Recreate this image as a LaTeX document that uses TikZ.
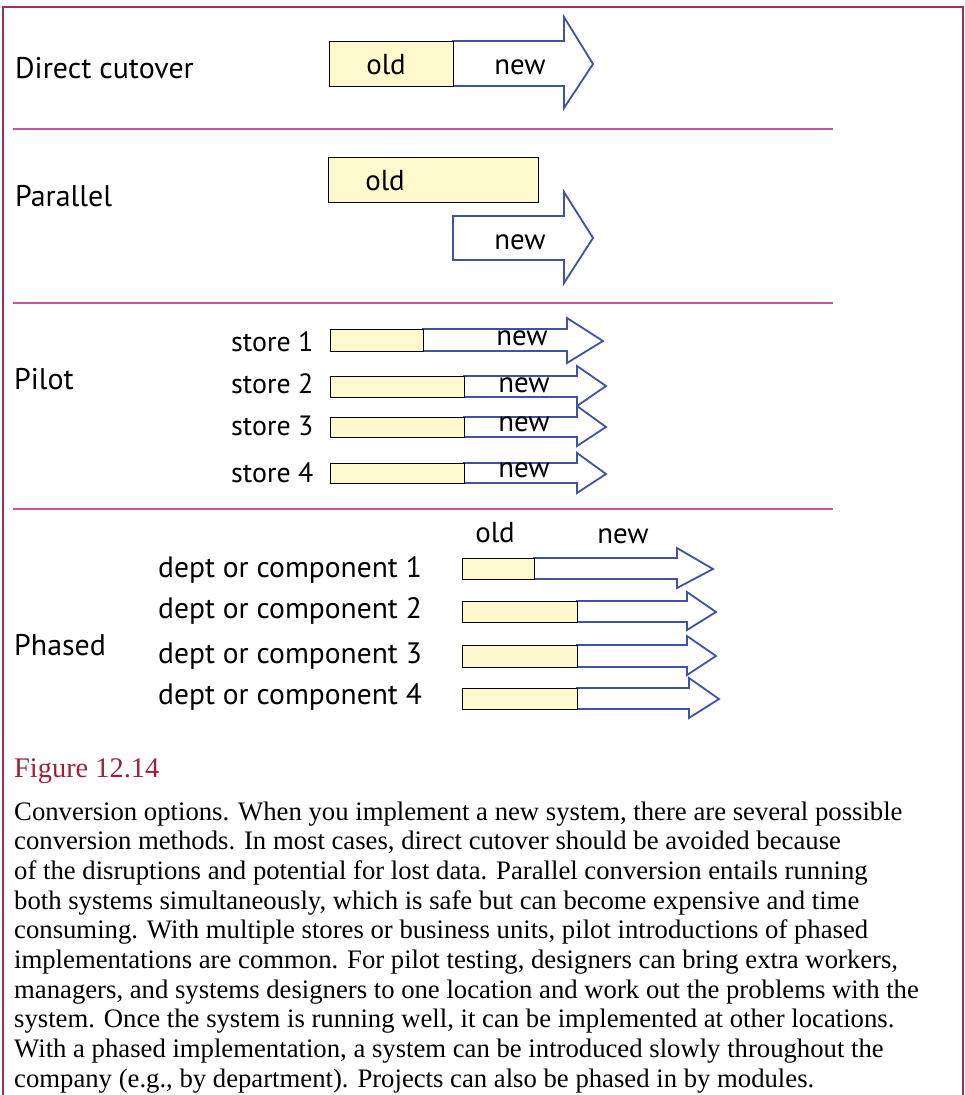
\documentclass[tikz,border=0pt]{standalone}
\usepackage{fontspec}
\setmainfont{Liberation Serif}
\newfontfamily\labelfont{PT Sans}
\definecolor{framecol}{HTML}{9E2F4E}
\definecolor{rulecol}{HTML}{C455A5}
\definecolor{arrowblue}{HTML}{3F52A6}
\definecolor{oldfill}{HTML}{FFFACD}
\definecolor{titlecol}{HTML}{9B2335}

% block arrow: x-left, x-head-base, x-tip, shaft top, shaft bottom, head top, head bottom, tip y
\newcommand\blockarr[8]{%
  \draw[newarrow] (#1,#4) -- (#2,#4) -- (#2,#6) -- (#3,#8) -- (#2,#7) -- (#2,#5) -- (#1,#5) -- cycle;}

\begin{document}
\begin{tikzpicture}[x=1bp,y=-1bp,
  frame/.style={draw=framecol,line width=1.6bp},
  sectionrule/.style={draw=rulecol,line width=2.4bp},
  newarrow/.style={draw=arrowblue,fill=white,line width=1.8bp,line join=miter},
  oldbox/.style={draw=black,fill=oldfill,line width=1bp},
  lbl/.style={inner sep=0pt,anchor=base west,font=\labelfont\fontsize{30}{36}\selectfont},
  deptlbl/.style={inner sep=0pt,anchor=base west,font=\labelfont\fontsize{29.6}{35}\selectfont},
  small/.style={inner sep=0pt,anchor=base west,font=\labelfont\fontsize{28}{34}\selectfont},
  tag/.style={inner sep=0pt,anchor=base,font=\labelfont\fontsize{29}{34}\selectfont},
  caption/.style={inner sep=0pt,anchor=base west,font=\fontsize{26.8}{30}\selectfont}]
\useasboundingbox (0,0) rectangle (965,1095);

% outer frame (open at the bottom)
\draw[frame] (3,1095) -- (3,7) -- (963,7) -- (963,1095);

% section separators
\draw[sectionrule] (13,129) -- (833,129);
\draw[sectionrule] (13,303) -- (833,303);
\draw[sectionrule] (13,509) -- (833,509);

% ---- Direct cutover
\node[lbl] (direct) at (15,78) {Direct cutover};
\blockarr{453}{564}{593}{41}{86}{17}{108}{64}
\draw[oldbox] (329,41) rectangle (453,86);
\node[tag] (old1) at (386,74) {old};
\node[tag] (new1) at (520,74) {new};

% ---- Parallel
\node[lbl] (parallel) at (15,206) {Parallel};
\draw[oldbox] (328,157) rectangle (538,202);
\blockarr{453}{564}{593}{216}{260}{192}{283}{238}
\node[tag] (old2) at (385,190) {old};
\node[tag] (new2) at (520,249) {new};

% ---- Pilot
\node[lbl] (pilot) at (14,389) {Pilot};
\node[small] (s1) at (231,351) {store 1};
\node[small] (s2) at (231,393) {store 2};
\node[small] (s3) at (231,435) {store 3};
\node[small] (s4) at (231,482) {store 4};
\blockarr{423}{567}{603}{329}{351}{318}{363}{341}
\blockarr{464}{577}{606}{376}{397}{366}{406}{386}
\blockarr{464}{577}{606}{417}{437}{406}{446}{427}
\blockarr{464}{577}{606}{463}{483}{453}{493}{474}
\draw[oldbox] (330,329) rectangle (423,351);
\draw[oldbox] (330,376) rectangle (464,397);
\draw[oldbox] (330,417) rectangle (464,437);
\draw[oldbox] (330,463) rectangle (464,483);
\node[tag] (pn1) at (522,345) {new};
\node[tag] (pn2) at (524,392) {new};
\node[tag] (pn3) at (524,431) {new};
\node[tag] (pn4) at (524,477) {new};

% ---- Phased
\node[lbl] (phased) at (14,655) {Phased};
\node[tag] (hold) at (495,542) {old};
\node[tag] (hnew) at (623,543) {new};
\node[deptlbl] (d1) at (158,577) {dept or component 1};
\node[deptlbl] (d2) at (158,618) {dept or component 2};
\node[deptlbl] (d3) at (158,663) {dept or component 3};
\node[deptlbl] (d4) at (158,704) {dept or component 4};
\blockarr{534}{677}{713}{558}{579}{548}{588}{569}
\blockarr{577}{687}{716}{601}{622}{592}{630}{612}
\blockarr{577}{687}{716}{645}{667}{636}{675}{656}
\blockarr{577}{689}{719}{688}{709}{678}{718}{699}
\draw[oldbox] (462,558) rectangle (534,579);
\draw[oldbox] (462,601) rectangle (577,622);
\draw[oldbox] (462,645) rectangle (577,667);
\draw[oldbox] (462,688) rectangle (577,709);

% ---- caption
\node[inner sep=0pt,anchor=base west,text=titlecol,font=\fontsize{28.5}{32}\selectfont] (fig) at (14,777) {Figure 12.14};
\node[caption] (c1) at (14,820) {Conversion options. When you implement a new system, there are several possible};
\node[caption] (c2) at (14,849.7) {conversion methods. In most cases, direct cutover should be avoided because};
\node[caption] (c3) at (14,879.4) {of the disruptions and potential for lost data. Parallel conversion entails running};
\node[caption] (c4) at (14,909.1) {both systems simultaneously, which is safe but can become expensive and time};
\node[caption] (c5) at (14,938.8) {consuming. With multiple stores or business units, pilot introductions of phased};
\node[caption] (c6) at (14,968.5) {implementations are common. For pilot testing, designers can bring extra workers,};
\node[caption] (c7) at (14,998.2) {managers, and systems designers to one location and work out the problems with the};
\node[caption] (c8) at (14,1027.9) {system. Once the system is running well, it can be implemented at other locations.};
\node[caption] (c9) at (14,1057.6) {With a phased implementation, a system can be introduced slowly throughout the};
\node[caption] (c10) at (14,1087.3) {company (e.g., by department). Projects can also be phased in by modules.};
\end{tikzpicture}
\end{document}
